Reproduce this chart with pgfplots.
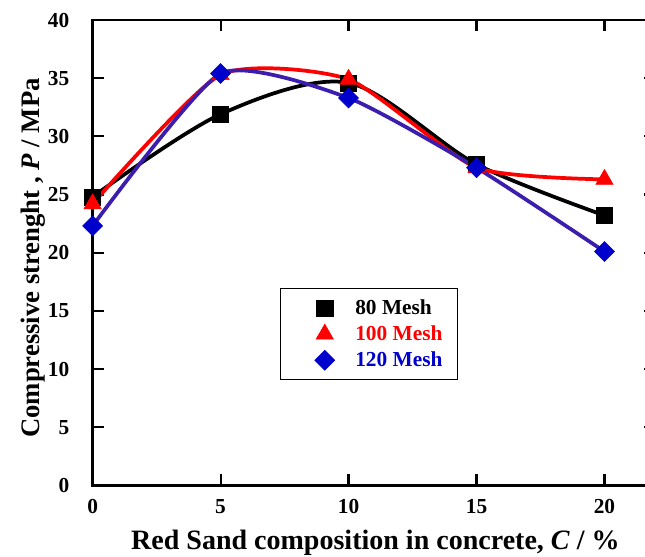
\documentclass[border=0pt]{standalone}
\usepackage{fontspec}
\setmainfont{Liberation Serif}
\usepackage{pgfplots}
\pgfplotsset{compat=1.18}
\definecolor{linepurple}{RGB}{60,30,175}
\definecolor{markblue}{RGB}{0,0,205}
\begin{document}
\begin{tikzpicture}
\begin{axis}[
    scale only axis,
    width=422pt,
    height=348.75pt,
    xmin=0, xmax=22,
    ymin=0, ymax=40,
    xtick={0,5,10,15,20},
    ytick={0,5,...,40},
    tick align=inside,
    major tick length=8.6pt,
    axis line style={line width=2.2pt},
    every tick/.style={line width=1.6pt,black},
    tick label style={font=\fontsize{16}{18}\selectfont\bfseries},
    /pgf/number format/assume math mode=true,
    xticklabel style={yshift=-7pt},
    yticklabel style={xshift=-14pt},
    xlabel={Red Sand composition in concrete, \textit{C} / \%},
    ylabel={Compressive strenght , \textit{P} / MPa},
    xlabel style={font=\fontsize{21}{24}\selectfont\bfseries,
        at={(axis description cs:0.5,0)}, anchor=center, yshift=-43pt, xshift=1pt},
    ylabel style={font=\fontsize{20}{23}\selectfont\bfseries,
        at={(axis description cs:0,0.5)}, anchor=center, yshift=44.5pt, xshift=-4pt},
    legend style={at={(axis cs:10.8,13.0)}, anchor=center, draw=black,
        line width=0.6pt, font=\fontsize{16}{19}\selectfont\bfseries,
        inner xsep=9pt, inner ysep=6pt, row sep=3pt},
    legend cell align=left,
    legend image code/.code={\path (0,0) (42pt,0);
        \draw[#1, line width=0.4pt] plot coordinates {(22.5pt,0pt)};},
    clip=false,
]
\addplot[black, line width=2.8pt, smooth, tension=0.5, mark=square*, mark size=6pt,
    mark options={solid, line width=0.4pt, fill=black}]
    coordinates {(0,24.8) (5,31.9) (10,34.6) (15,27.6) (20,23.2)};
\addlegendentry{\textcolor{black}{80 Mesh}}
\addplot[red, line width=2.8pt, smooth, tension=0.36, mark=triangle*, mark size=7.5pt,
    mark options={solid, line width=0.4pt, fill=red}]
    coordinates {(0,24.2) (5,35.3) (10,34.9) (15,27.3) (20,26.3)};
\addlegendentry{\textcolor{red}{100 Mesh}}
\addplot[linepurple, line width=2.8pt, smooth, tension=0.35, mark=square*, mark size=5.3pt,
    mark options={solid, rotate=45, line width=0.4pt, draw=markblue, fill=markblue}]
    coordinates {(0,22.3) (5,35.4) (10,33.3) (15,27.3) (20,20.1)};
\addlegendentry{\textcolor{markblue}{120 Mesh}}
\end{axis}
\pgfresetboundingbox
\path ([xshift=-69.4pt,yshift=-53.25pt]current axis.south west)
    rectangle ([xshift=-8pt,yshift=15pt]current axis.north east);
\end{tikzpicture}
\end{document}
